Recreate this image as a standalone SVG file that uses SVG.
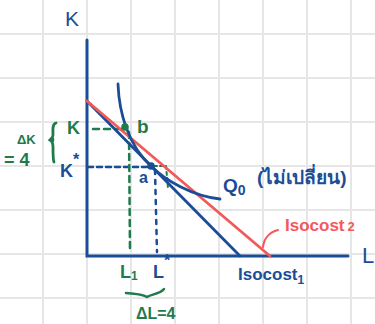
<svg xmlns="http://www.w3.org/2000/svg" width="375" height="324" viewBox="0 0 375 324">
<style>
.grid{stroke:#e6e6e6;stroke-width:2}
.blue{stroke:#1b4d96;fill:none;stroke-linecap:round}
.green{stroke:#1f7a4c;fill:none;stroke-linecap:round}
.red{stroke:#f25a5a;fill:none;stroke-linecap:round}
.tb{fill:#1b4d96;font-family:"Liberation Sans",sans-serif}
.tg{fill:#1f7a4c;font-family:"Liberation Sans",sans-serif}
.tr{fill:#f25a5a;font-family:"Liberation Sans",sans-serif}
</style>
<rect width="375" height="324" fill="#fff"/>
<g id="grid">
<path class="grid" d="M43,0V324M87,0V324M131,0V324M175,0V324M219,0V324M263,0V324M307,0V324M351,0V324M0,34H375M0,78H375M0,122H375M0,166H375M0,210H375M0,254H375M0,298H375"/>
</g>
<g id="axes">
<path class="blue" stroke-width="3" d="M87,40V256H348"/>
<text class="tb" x="65" y="26" font-size="21">K</text>
<text class="tb" x="362" y="263" font-size="22">L</text>
</g>
<g id="connectors">
<path class="blue" stroke-width="2.5" stroke-dasharray="5,4" d="M88,167H152"/>
<path class="blue" stroke-width="2.5" stroke-dasharray="4,6" d="M155,170L157,252"/>
<path class="green" stroke-width="2.5" stroke-dasharray="6,5" d="M93,129H124"/>
<path class="green" stroke-width="2.5" stroke-dasharray="6,5" d="M129,132L130,252"/>
<path class="green" stroke-width="2" stroke-dasharray="3,3" d="M154,166H166L168,188"/>
</g>
<g id="isocost1">
<path class="blue" stroke-width="2.8" d="M87,101L240,256"/>
<text class="tb" x="238" y="280" font-size="17" font-weight="bold">Isocost<tspan font-size="12" dy="4">1</tspan></text>
</g>
<g id="isocost2">
<path class="red" stroke-width="2.8" d="M87,101L270,256"/>
<path class="red" stroke-width="2.2" d="M263,247C264,238 270,232 278,230"/>
<text class="tr" x="285" y="231" font-size="17" font-weight="bold">Isocost<tspan font-size="13" dx="3">2</tspan></text>
</g>
<g id="Q0">
<path class="blue" stroke-width="2.8" d="M118,84C119,112 128,146 152,167C165,180 192,196 220,199"/>
<text class="tb" x="223" y="192" font-size="19" font-weight="bold">Q<tspan font-size="14" dy="3">0</tspan></text>
<text class="tb" x="257" y="184" font-size="19" font-weight="bold" font-family="'Noto Sans Thai','Noto Sans','DejaVu Sans',sans-serif">(ไม่เปลี่ยน)</text>
</g>
<g id="point-b">
<circle cx="125" cy="127" r="3.8" fill="#1f7a4c"/>
<text class="tg" x="137" y="133" font-size="19" font-weight="bold">b</text>
<text class="tg" x="67" y="134" font-size="18" font-weight="bold">K</text>
</g>
<g id="point-a">
<circle cx="151" cy="166" r="3.8" fill="#1b4d96"/>
<text class="tb" x="139" y="183" font-size="16" font-weight="bold">a</text>
<text class="tb" x="60" y="177" font-size="18" font-weight="bold">K<tspan font-size="16" dy="-12">*</tspan></text>
</g>
<g id="deltaK">
<path class="green" stroke-width="2.8" d="M56,123C52,124 53,130 53,135C53,138 51,139 50,140C52,141 53,143 53,147C53,154 53,160 54,162"/>
<circle cx="52" cy="140" r="2.4" fill="#1f7a4c"/>
<text class="tg" x="17" y="144" font-size="13" font-weight="bold">ΔK</text>
<text class="tg" x="4" y="166" font-size="18" font-weight="bold">= 4</text>
</g>
<g id="deltaL">
<text class="tg" x="120" y="278" font-size="18" font-weight="bold">L<tspan font-size="12" dy="2">1</tspan></text>
<text class="tb" x="153" y="278" font-size="18" font-weight="bold">L<tspan font-size="16" dy="-12">*</tspan></text>
<path class="green" stroke-width="2.5" d="M126,293C134,294 142,294 147,297C152,294 160,294 164,289"/>
<text class="tg" x="136" y="319" font-size="16" font-weight="bold">ΔL=4</text>
</g>
</svg>
